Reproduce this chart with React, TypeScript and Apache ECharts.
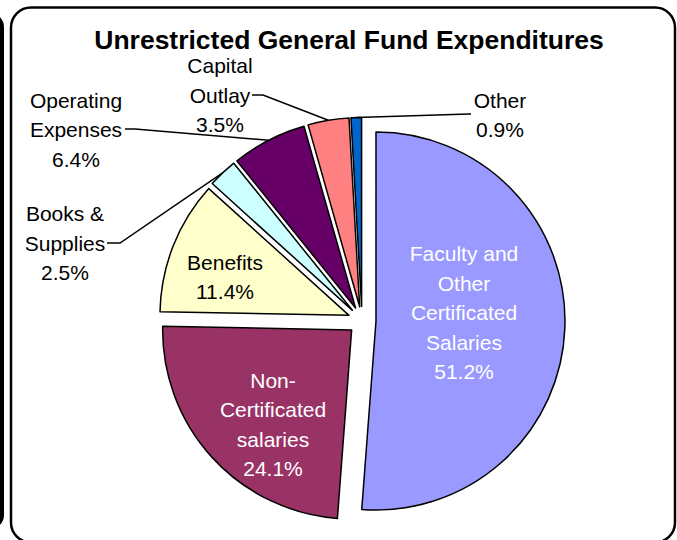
import React, { useEffect, useRef } from 'react';
import * as echarts from 'echarts';

const TITLE = 'Unrestricted General Fund Expenditures';
const CATEGORIES = [
  'Faculty and Other Certificated Salaries',
  'Non-Certificated salaries',
  'Benefits',
  'Books & Supplies',
  'Operating Expenses',
  'Capital Outlay',
  'Other',
];
const LABEL_TEXT = [
  'Faculty and\nOther\nCertificated\nSalaries',
  'Non-\nCertificated\nsalaries',
  'Benefits',
  'Books &\nSupplies',
  'Operating\nExpenses',
  'Capital\nOutlay',
  'Other',
];
const VALUES = [51.2, 24.1, 11.4, 2.5, 6.4, 3.5, 0.9];
const COLORS = ['#9999FF', '#993366', '#FFFFCC', '#CCFFFF', '#660066', '#FF8080', '#0066CC'];
const LABEL_COLORS = ['#ffffff', '#ffffff', '#000000', '#000000', '#000000', '#000000', '#000000'];
const OUTSIDE = [false, false, false, true, true, true, true];

// label placement (layout only)
const LABEL_LAYOUT: { x: number; y: number; line?: number[][] }[] = [
  { x: 464, y: 312.5 },
  { x: 273, y: 424.5 },
  { x: 225, y: 277 },
  { x: 65, y: 243, line: [[120, 243], [107, 243]] },
  { x: 76, y: 129.5, line: [[135, 129], [125, 129]] },
  { x: 220, y: 95, line: [[263, 95], [252, 95]] },
  { x: 500, y: 115, line: [[469, 114], [471, 114]] },
];

const CENTER = [362, 320.5];
const RADIUS = 189;
const EXPLODE = 14;
const FONT = '"Liberation Sans", Arial, sans-serif';

export default function App() {
  const ref = useRef<HTMLDivElement>(null);
  useEffect(() => {
    if (!ref.current) return;
    const chart = echarts.init(ref.current, undefined, { renderer: 'svg' });
    const sliceData = VALUES.map((v, i) => ({
      value: v,
      name: CATEGORIES[i],
      selected: true,
      itemStyle: { color: COLORS[i] },
    }));
    const labelData = VALUES.map((v, i) => ({
      value: v,
      name: CATEGORIES[i],
      label: {
        position: OUTSIDE[i] ? 'outside' : 'inside',
        color: LABEL_COLORS[i],
      },
      labelLine: { show: OUTSIDE[i] },
    }));
    chart.setOption({
      animation: false,
      backgroundColor: '#ffffff',
      graphic: [
        {
          type: 'rect',
          shape: { x: -500, y: 15, width: 502, height: 512, r: 12 },
          style: { fill: 'none', stroke: '#000', lineWidth: 4 },
          silent: true,
        },
        {
          type: 'rect',
          shape: { x: 11, y: 7.5, width: 664, height: 535, r: 20 },
          style: { fill: 'none', stroke: '#000', lineWidth: 2.5 },
          silent: true,
        },
        {
          type: 'text',
          x: 349,
          y: 40,
          style: {
            text: TITLE,
            fill: '#000',
            font: `bold 26.5px ${FONT}`,
            textAlign: 'center',
            textVerticalAlign: 'middle',
          },
          silent: true,
        },
      ],
      series: [
        {
          type: 'pie',
          center: CENTER,
          radius: RADIUS,
          startAngle: 90,
          clockwise: true,
          selectedMode: 'multiple',
          selectedOffset: EXPLODE,
          itemStyle: { borderColor: '#000', borderWidth: 1.5 },
          emphasis: { disabled: true, scale: false },
          select: { itemStyle: { borderColor: '#000', borderWidth: 1.5 } },
          label: { show: false },
          labelLine: { show: false },
          data: sliceData,
        },
        {
          type: 'pie',
          center: CENTER,
          radius: RADIUS + EXPLODE,
          startAngle: 90,
          clockwise: true,
          silent: true,
          selectedMode: false,
          avoidLabelOverlap: false,
          itemStyle: { color: 'rgba(0,0,0,0)', borderWidth: 0 },
          emphasis: { disabled: true, scale: false },
          label: {
            fontFamily: FONT,
            fontSize: 21,
            lineHeight: 29.5,
            align: 'center',
            formatter: (p: any) => `${LABEL_TEXT[p.dataIndex]}\n${Number(p.value).toFixed(1)}%`,
          },
          labelLine: {
            length: 10,
            length2: 10,
            lineStyle: { color: '#000', width: 1.5 },
          },
          labelLayout: (params: any) => {
            const L = LABEL_LAYOUT[params.dataIndex];
            const res: any = { x: L.x, y: L.y, align: 'center', verticalAlign: 'middle' };
            if (L.line && params.labelLinePoints) {
              res.labelLinePoints = [params.labelLinePoints[0], L.line[0], L.line[1]];
            }
            return res;
          },
          data: labelData,
        },
      ],
    });
    return () => chart.dispose();
  }, []);
  return (
    <div
      ref={ref}
      style={{ position: 'absolute', left: 0, top: 0, width: 677, height: 540 }}
    />
  );
}
